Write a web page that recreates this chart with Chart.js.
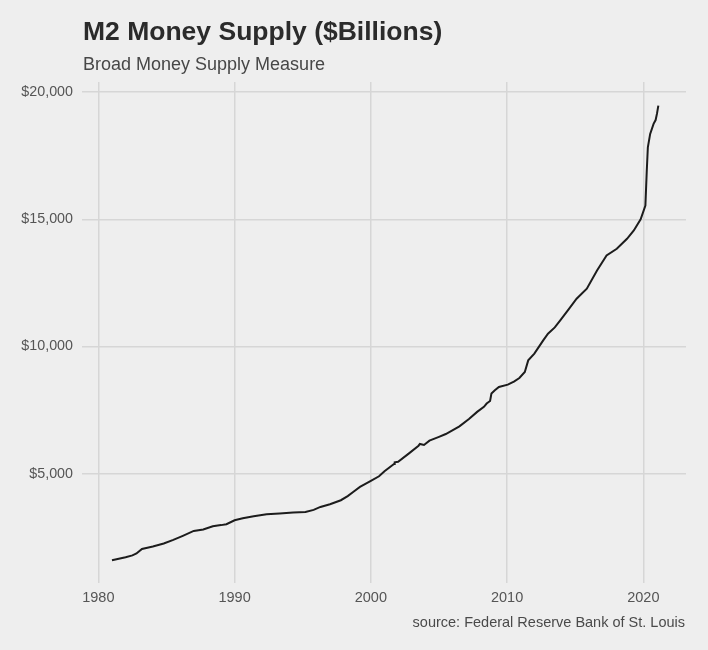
<!DOCTYPE html>
<html>
<head>
<meta charset="utf-8">
<script src="https://cdn.jsdelivr.net/npm/chart.js@4"></script>
<style>
  html, body { margin: 0; padding: 0; background: #eeeeee; }
  #wrap { width: 708px; height: 650px; position: relative; }
</style>
</head>
<body>
<div id="wrap"><canvas id="c" width="708" height="650"></canvas></div>
<script>
const titleText = "M2 Money Supply ($Billions)";
const subtitleText = "Broad Money Supply Measure";
const captionText = "source: Federal Reserve Bank of St. Louis";

const years = [1981.0, 1981.5, 1982.0, 1982.5, 1982.8, 1983.2, 1983.6, 1984.0, 1984.8, 1985.5, 1986.2, 1987.0, 1987.7, 1988.4, 1989.0, 1989.4, 1990.0, 1990.6, 1991.4, 1992.35, 1993.3, 1994.3, 1995.2, 1995.8, 1996.3, 1997.0, 1997.8, 1998.3, 1998.7, 1999.2, 1999.6, 2000.0, 2000.6, 2001.0, 2001.7, 2001.75, 2002.0, 2002.8, 2003.5, 2003.6, 2003.9, 2004.3, 2005.0, 2005.5, 2006.5, 2007.2, 2007.8, 2008.3, 2008.5, 2008.75, 2008.85, 2009.1, 2009.4, 2010.05, 2010.5, 2010.9, 2011.3, 2011.55, 2012.0, 2012.65, 2013.0, 2013.5, 2013.9, 2014.5, 2015.1, 2015.85, 2016.6, 2017.3, 2018.05, 2018.8, 2019.3, 2019.8, 2020.15, 2020.25, 2020.33, 2020.5, 2020.75, 2020.9, 2021.0, 2021.1];
const m2 = [1600, 1660, 1720, 1790, 1865, 2040, 2090, 2140, 2257, 2400, 2560, 2752, 2807, 2937, 2980, 3015, 3172, 3250, 3329, 3408, 3440, 3475, 3498, 3580, 3695, 3800, 3958, 4120, 4284, 4480, 4600, 4720, 4900, 5100, 5380, 5450, 5470, 5800, 6100, 6170, 6130, 6300, 6450, 6560, 6860, 7150, 7430, 7630, 7760, 7860, 8150, 8278, 8407, 8500, 8620, 8760, 8996, 9455, 9718, 10240, 10503, 10750, 11025, 11450, 11877, 12270, 12988, 13577, 13840, 14233, 14559, 15000, 15540, 16900, 17829, 18355, 18748, 18900, 19150, 19466];

const xTicks = [1980, 1990, 2000, 2010, 2020];
const yTicks = [5000, 10000, 15000, 20000];

const points = years.map((y, i) => ({ x: y, y: m2[i] }));

const FONT = "'Liberation Sans', Arial, Helvetica, sans-serif";

const decor = {
  id: 'decor',
  beforeDraw(chart) {
    const ctx = chart.ctx;
    ctx.save();
    ctx.fillStyle = '#eeeeee';
    ctx.fillRect(0, 0, chart.width, chart.height);
    ctx.restore();
  },
  afterDraw(chart) {
    const ctx = chart.ctx;
    const a = chart.chartArea;
    ctx.save();
    ctx.textBaseline = 'alphabetic';
    ctx.textAlign = 'left';
    ctx.fillStyle = '#2b2b2b';
    ctx.font = "bold 26.5px " + FONT;
    ctx.fillText(titleText, a.left + 1, 40);
    ctx.fillStyle = '#474747';
    ctx.font = "18px " + FONT;
    ctx.fillText(subtitleText, a.left + 1, 70);
    ctx.textAlign = 'right';
    ctx.fillStyle = '#4a4a4a';
    ctx.font = "14.5px " + FONT;
    ctx.fillText(captionText, a.right - 1, 626.5);
    ctx.restore();
  }
};

new Chart(document.getElementById('c'), {
  type: 'line',
  data: {
    datasets: [{
      data: points,
      borderColor: '#1c1c1c',
      borderWidth: 2,
      pointRadius: 0,
      tension: 0,
      fill: false
    }]
  },
  options: {
    responsive: false,
    animation: false,
    devicePixelRatio: 1,
    layout: { padding: { left: 0, right: 22, top: 82, bottom: 37 } },
    plugins: { legend: { display: false }, tooltip: { enabled: false }, title: { display: false } },
    scales: {
      x: {
        type: 'linear',
        min: 1978.8,
        max: 2023.13,
        afterBuildTicks(scale) { scale.ticks = xTicks.map(v => ({ value: v })); },
        afterFit(scale) { scale.height = 30; },
        grid: { color: '#d6d6d6', lineWidth: 1.5, drawTicks: false },
        border: { display: false },
        ticks: {
          padding: 6,
          color: '#555555',
          font: { family: FONT, size: 14.5 },
          maxRotation: 0,
          autoSkip: false,
          callback: v => String(v)
        }
      },
      y: {
        min: 705,
        max: 20395,
        afterBuildTicks(scale) { scale.ticks = yTicks.map(v => ({ value: v })); },
        afterFit(scale) { scale.width = 82; },
        grid: { color: '#d6d6d6', lineWidth: 1.5, drawTicks: false },
        border: { display: false },
        ticks: {
          padding: 9,
          color: '#555555',
          font: { family: FONT, size: 14.3 },
          autoSkip: false,
          callback: v => '$' + v.toLocaleString('en-US')
        }
      }
    }
  },
  plugins: [decor]
});
</script>
</body>
</html>
